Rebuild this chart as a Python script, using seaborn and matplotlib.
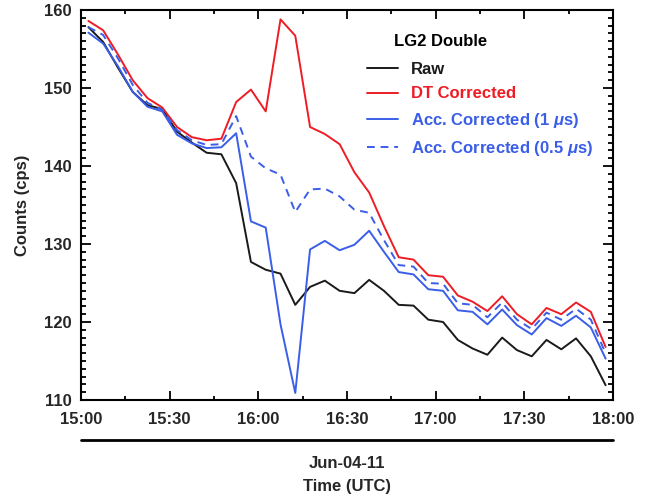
import matplotlib
matplotlib.use("Agg")
import matplotlib.pyplot as plt
import seaborn as sns
import pandas as pd
from matplotlib.lines import Line2D
from matplotlib.ticker import MultipleLocator, FixedLocator

times = ["15:02:30", "15:07:30", "15:12:30", "15:17:30", "15:22:30", "15:27:30",
         "15:32:30", "15:37:30", "15:42:30", "15:47:30", "15:52:30", "15:57:30",
         "16:02:30", "16:07:30", "16:12:30", "16:17:30", "16:22:30", "16:27:30",
         "16:32:30", "16:37:30", "16:42:30", "16:47:30", "16:52:30", "16:57:30",
         "17:02:30", "17:07:30", "17:12:30", "17:17:30", "17:22:30", "17:27:30",
         "17:32:30", "17:37:30", "17:42:30", "17:47:30", "17:52:30", "17:57:30"]

raw = [157.8, 155.9, 152.6, 149.5, 147.8, 147.3, 144.4, 143.0, 141.7, 141.5, 137.8, 127.7,
       126.7, 126.2, 122.2, 124.5, 125.3, 124.0, 123.7, 125.4, 124.0, 122.2, 122.1, 120.3,
       120.0, 117.7, 116.6, 115.8, 118.0, 116.4, 115.6, 117.7, 116.5, 117.9, 115.6, 111.9]
dt_corr = [158.6, 157.4, 154.3, 151.0, 148.7, 147.5, 145.0, 143.7, 143.3, 143.5, 148.2, 149.8,
           147.0, 158.8, 156.7, 145.0, 144.1, 142.8, 139.2, 136.6, 132.3, 128.3, 128.0, 126.0,
           125.8, 123.4, 122.6, 121.4, 123.3, 121.0, 119.7, 121.8, 121.0, 122.5, 121.3, 116.8]
acc_1us = [157.1, 155.7, 152.8, 149.5, 147.6, 147.0, 144.0, 142.9, 142.3, 142.4, 144.2, 132.9,
           132.1, 119.7, 110.9, 129.3, 130.4, 129.2, 129.9, 131.7, 129.0, 126.4, 126.1, 124.2,
           124.0, 121.5, 121.3, 119.7, 121.6, 119.6, 118.4, 120.5, 119.5, 120.8, 119.3, 115.3]
acc_05us = [157.8, 156.8, 153.8, 150.4, 148.1, 147.2, 144.6, 143.3, 142.7, 142.8, 146.4, 141.2,
            139.7, 138.9, 134.1, 137.0, 137.1, 136.1, 134.4, 134.0, 130.5, 127.3, 127.1, 125.0,
            124.9, 122.4, 122.2, 120.6, 122.5, 120.3, 119.1, 121.2, 120.3, 121.7, 120.3, 116.0]

series_names = ["Raw", "DT Corrected", "Acc. Corrected (1 $\\mu$s)", "Acc. Corrected (0.5 $\\mu$s)"]
series_colors = ["#1a1a1a", "#ee1c25", "#3a5ee8", "#3a5ee8"]
series_dashes = [False, False, False, True]

xtick_labels = ["15:00", "15:30", "16:00", "16:30", "17:00", "17:30", "18:00"]
ytick_values = [110, 120, 130, 140, 150, 160]

def to_min(s):
    h, m, sec = [int(v) for v in s.split(":")]
    return (h - 15) * 60 + m + sec / 60.0

x = [to_min(t) for t in times]

sns.set_style("ticks")
plt.rcParams["font.family"] = ["Liberation Sans", "DejaVu Sans"]
plt.rcParams["font.weight"] = "bold"
plt.rcParams["mathtext.fontset"] = "custom"
plt.rcParams["mathtext.it"] = "Liberation Sans:italic:bold"
plt.rcParams["mathtext.rm"] = "Liberation Sans:bold"

fig = plt.figure(figsize=(6.51, 5.01), dpi=100)
ax = fig.add_axes([81 / 651, 1 - 400 / 501, (613 - 81) / 651, (400 - 10) / 501])

for name, vals, col, dash in zip(series_names, [raw, dt_corr, acc_1us, acc_05us],
                                 series_colors, series_dashes):
    df = pd.DataFrame({"t": x, "v": vals})
    sns.lineplot(data=df, x="t", y="v", ax=ax, color=col, lw=1.4, label=name,
                 linestyle=(0, (4, 3)) if dash else "-")

ax.set_xlim(0, 180)
ax.set_ylim(110, 160)
ax.xaxis.set_major_locator(FixedLocator([0, 30, 60, 90, 120, 150, 180]))
ax.set_xticklabels(xtick_labels, fontsize=12, fontweight="bold")
ax.xaxis.set_minor_locator(MultipleLocator(15))
ax.yaxis.set_major_locator(FixedLocator(ytick_values))
ax.set_yticklabels([str(v) for v in ytick_values], fontsize=12, fontweight="bold")
ax.yaxis.set_minor_locator(MultipleLocator(1))
ax.tick_params(which="both", direction="in", top=True, right=True, color="black", width=1.3)
ax.tick_params(axis="x", which="major", length=6.5, pad=9)
ax.tick_params(axis="x", which="minor", length=3)
ax.tick_params(axis="y", which="major", length=7.5, pad=7)
ax.tick_params(axis="y", which="minor", length=3.8)
for sp in ax.spines.values():
    sp.set_visible(True)
    sp.set_color("black")
    sp.set_linewidth(1.5)
ax.set_xlabel("")
ax.set_ylabel("Counts (cps)", fontsize=12, fontweight="bold", labelpad=10)

leg = ax.legend(loc="upper left", bbox_to_anchor=(0.537, 0.866), frameon=False,
                fontsize=12, handlelength=1.9, handletextpad=0.75, labelspacing=0.55,
                borderaxespad=0, borderpad=0)
for txt, col in zip(leg.get_texts(), series_colors):
    txt.set_color(col)
    txt.set_fontweight("bold")
ax.text(0.588, 0.918, "LG2 Double", transform=ax.transAxes, fontsize=12,
        fontweight="bold", color="black", ha="left", va="center")

fig.add_artist(Line2D([81 / 651, 613 / 651], [1 - 440 / 501, 1 - 440 / 501],
                      transform=fig.transFigure, color="black", lw=2))
fig.text(347 / 651, 1 - 463 / 501, "Jun-04-11", ha="center", va="center",
         fontsize=12, fontweight="bold")
fig.text(347 / 651, 1 - 487 / 501, "Time (UTC)", ha="center", va="center",
         fontsize=12, fontweight="bold")

fig.savefig("out.png", dpi=100)
